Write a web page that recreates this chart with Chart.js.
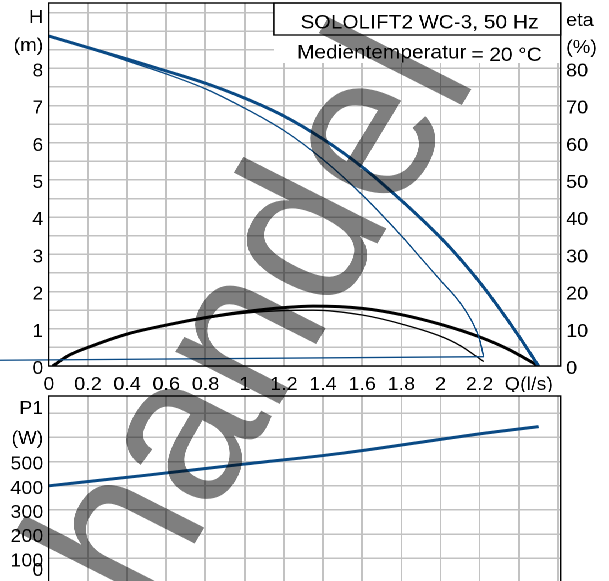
<!DOCTYPE html>
<html><head><meta charset="utf-8">
<script src="https://cdn.jsdelivr.net/npm/chart.js@4.4.1/dist/chart.umd.min.js"></script>
<style>
html,body{margin:0;padding:0;background:#fff;overflow:hidden;width:609px;height:581px}
#wrap{position:absolute;left:0;top:0;width:554px;height:600px;transform:scaleX(1.09928);transform-origin:0 0}
#c1{position:absolute;left:0;top:0}
#c2{position:absolute;left:0;top:392px}
#wm{position:absolute;left:0;top:0;pointer-events:none}
</style></head><body>
<div id="wrap"><canvas id="c1" width="554" height="392"></canvas><canvas id="c2" width="554" height="200"></canvas><canvas id="wm"></canvas></div>
<script>
// ---------- data ----------
const xTickValues = [0,0.2,0.4,0.6,0.8,1,1.2,1.4,1.6,1.8,2,2.2];
const xTickLabels = ['0','0.2','0.4','0.6','0.8','1','1.2','1.4','1.6','1.8','2','2.2'];
const xUnitLabel = 'Q(l/s)';
const xGridValues = [0,0.2,0.4,0.6,0.8,1,1.2,1.4,1.6,1.8,2,2.2,2.4,2.6];

const headGridValues = [0,0.5,1,1.5,2,2.5,3,3.5,4,4.5,5,5.5,6,6.5,7,7.5,8,8.5,9,9.5];
const headTickValues = [0,1,2,3,4,5,6,7,8];
const headTickLabels = ['0','1','2','3','4','5','6','7','8'];
const headUnitLabels = ['H','(m)'];

const etaTickValues = [0,10,20,30,40,50,60,70,80];
const etaTickLabels = ['0','10','20','30','40','50','60','70','80'];
const etaUnitLabels = ['eta','(%)'];

const powerGridValues = [0,100,200,300,400,500,600,700];
const powerTickValues = [100,200,300,400,500];
const powerTickLabels = ['100','200','300','400','500'];
const powerUnitLabels = ['P1','(W)','0'];

const titleLines = ['SOLOLIFT2 WC-3, 50 Hz','Medientemperatur','= 20 °C'];
const watermarkText = 'handel';

// head curve, thick (m)
const qHeadMax = [0,0.2,0.4,0.6,0.8,1.0,1.2,1.4,1.6,1.8,2.0,2.1,2.2,2.3,2.4,2.5];
const headMax  = [8.87,8.56,8.25,7.93,7.6,7.2,6.72,6.1,5.35,4.45,3.45,2.88,2.25,1.55,0.8,0];
// head curve, thin (m)
const qHeadMin = [0,0.2,0.4,0.6,0.8,1.0,1.2,1.4,1.6,1.8,1.9,2.0,2.1,2.17,2.2,2.22];
const headMin  = [8.87,8.55,8.2,7.85,7.45,6.93,6.33,5.55,4.6,3.5,2.9,2.3,1.7,1.1,0.7,0.25];
// thin closing line (m)
const qBaseLine = [-0.25,2.22];
const baseLine  = [0.155,0.25];
// efficiency curves (%)
const qEtaMax = [0.02,0.1,0.2,0.4,0.6,0.8,1.0,1.2,1.35,1.6,1.8,2.0,2.2,2.35,2.5];
const etaMax  = [0,2.8,5.0,8.6,11.0,13.0,14.6,15.7,16.1,15.5,13.8,11.2,7.8,4.4,0];
const qEtaMin = [0.02,0.1,0.2,0.4,0.6,0.8,1.0,1.2,1.35,1.6,1.8,2.0,2.1,2.22];
const etaMin  = [0,2.8,5.0,8.5,10.9,12.8,14.2,14.9,15.0,13.7,11.3,8.0,5.5,1.2];
// power input P1 (W)
const qPower = [0,0.5,1.0,1.5,2.0,2.2,2.5];
const power  = [400,444,490,535,592,615,645];

// ---------- layout / style ----------
const BLUE = '#0a4a85';
const GRID = '#c2c2c2';
const GRID_W = 1.5;
const FONT = {family:'"Liberation Sans", Arial, sans-serif', size:18};
const AREA_L = 44.4, AREA_R = 510, W = 554;
const X_MAX = 2.613;
const LABEL_DY = 3;
const H_POS = 9.435, M_POS = 8.68;
const ETA_POS = 93.5, PCT_POS = 86.3;
const P_POS = 730, WUNIT_POS = 606, ZERO_POS = 60;
const X_UNIT_POS = 2.45;

const xy = (xs, ys) => xs.map((x,i)=>({x, y: ys[i]}));
const near = (a,b) => Math.abs(a-b) < 1e-6;
const idx = (arr, v) => arr.findIndex(a => near(a,v));
const noPad = s => { s.paddingTop = 0; s.paddingBottom = 0; s.paddingLeft = 0; s.paddingRight = 0; };

const framePlugin = {
  id:'frame',
  afterDraw(chart){
    const {ctx, chartArea:a} = chart;
    ctx.save();
    ctx.strokeStyle = '#000'; ctx.lineWidth = 1.4;
    ctx.strokeRect(a.left, a.top, a.right-a.left, a.bottom-a.top);
    ctx.restore();
  }
};

const boxPlugin = {
  id:'box',
  beforeDatasetsDraw(chart){
    const {ctx} = chart;
    const x1 = 249.2, x2 = AREA_R;
    ctx.save();
    ctx.fillStyle = '#fff';
    ctx.fillRect(x1, 3, x2-x1, 32);
    ctx.fillRect(x1, 35, x2-x1, 28);
    ctx.strokeStyle = '#000'; ctx.lineWidth = 1.3;
    ctx.strokeRect(x1, 3, x2-x1, 32);
    ctx.fillStyle = '#000';
    ctx.font = '19px "Liberation Sans", Arial, sans-serif';
    ctx.textBaseline = 'alphabetic';
    ctx.textAlign = 'center';
    ctx.fillText(titleLines[0], 381.6, 28.3);
    ctx.textAlign = 'left';
    ctx.fillText(titleLines[1], 270.2, 58.3);
    ctx.textAlign = 'right';
    ctx.fillText(titleLines[2], 492.8, 61);
    ctx.restore();
  }
};

const gridColor = vals => c => (c.tick && idx(vals, c.tick.value) >= 0) ? GRID : 'rgba(0,0,0,0)';

new Chart(document.getElementById('c1'), {
  type:'line',
  data:{ datasets:[
    {data: xy(qHeadMax, headMax), yAxisID:'y', borderColor:BLUE, borderWidth:3},
    {data: xy(qHeadMin, headMin), yAxisID:'y', borderColor:BLUE, borderWidth:1.3},
    {data: xy(qBaseLine, baseLine), yAxisID:'y', borderColor:BLUE, borderWidth:1.3, clip:false, cubicInterpolationMode:'default', tension:0},
    {data: xy(qEtaMax, etaMax), yAxisID:'y2', borderColor:'#000', borderWidth:3},
    {data: xy(qEtaMin, etaMin), yAxisID:'y2', borderColor:'#000', borderWidth:1.3}
  ]},
  options:{
    responsive:false, animation:false, devicePixelRatio:2,
    layout:{padding:{top:3, left:0, right:0, bottom:0}},
    elements:{ point:{radius:0}, line:{cubicInterpolationMode:'monotone', fill:false, borderCapStyle:'butt'} },
    plugins:{ legend:{display:false}, tooltip:{enabled:false} },
    scales:{
      x: { type:'linear', min:0, max:X_MAX,
        afterBuildTicks: s => { s.ticks = xGridValues.concat([X_UNIT_POS]).map(v=>({value:v})); },
        afterFit: s => { s.height = 26; noPad(s); },
        border:{display:false},
        grid:{ color: gridColor(xGridValues), lineWidth:GRID_W, drawTicks:false },
        ticks:{ autoSkip:false, maxRotation:0, padding:8, color:'#000', font:FONT,
          callback: v => { const i = idx(xTickValues, v); if (i >= 0) return xTickLabels[i]; if (near(v, X_UNIT_POS)) return xUnitLabel; return ''; } }
      },
      y: { type:'linear', position:'left', min:0, max:9.758,
        afterBuildTicks: s => { s.ticks = headGridValues.concat([H_POS, M_POS]).map(v=>({value:v})); },
        afterFit: s => { s.width = AREA_L; noPad(s); },
        border:{display:false},
        grid:{ color: gridColor(headGridValues), lineWidth:GRID_W, drawTicks:false },
        ticks:{ autoSkip:false, padding:5, labelOffset:LABEL_DY, color:'#000', font:FONT,
          callback: v => { const i = idx(headTickValues, v); if (i >= 0) return headTickLabels[i];
            if (near(v,H_POS)) return headUnitLabels[0]; if (near(v,M_POS)) return headUnitLabels[1]; return ''; } }
      },
      y2: { type:'linear', position:'right', min:0, max:97.58,
        afterBuildTicks: s => { s.ticks = etaTickValues.concat([ETA_POS, PCT_POS]).map(v=>({value:v})); },
        afterFit: s => { s.width = W - AREA_R; noPad(s); },
        border:{display:false},
        grid:{ display:false, drawTicks:false },
        ticks:{ autoSkip:false, padding:5, labelOffset:LABEL_DY, color:'#000', font:FONT,
          callback: v => { const i = idx(etaTickValues, v); if (i >= 0) return etaTickLabels[i];
            if (near(v,ETA_POS)) return etaUnitLabels[0]; if (near(v,PCT_POS)) return etaUnitLabels[1]; return ''; } }
      }
    }
  },
  plugins:[boxPlugin, framePlugin]
});

new Chart(document.getElementById('c2'), {
  type:'line',
  data:{ datasets:[
    {data: xy(qPower, power), borderColor:BLUE, borderWidth:3}
  ]},
  options:{
    responsive:false, animation:false, devicePixelRatio:2,
    layout:{padding:{top:4, left:0, right:W-AREA_R, bottom:9.5}},
    elements:{ point:{radius:0}, line:{cubicInterpolationMode:'monotone', fill:false, borderCapStyle:'butt'} },
    plugins:{ legend:{display:false}, tooltip:{enabled:false} },
    scales:{
      x: { type:'linear', min:0, max:X_MAX,
        afterBuildTicks: s => { s.ticks = xGridValues.map(v=>({value:v})); },
        afterFit: s => { s.height = 0; noPad(s); },
        border:{display:false},
        grid:{ color:GRID, lineWidth:GRID_W, drawTicks:false },
        ticks:{ display:false }
      },
      y: { type:'linear', position:'left', min:0, max:771.6,
        afterBuildTicks: s => { s.ticks = powerGridValues.concat([P_POS, WUNIT_POS, ZERO_POS]).map(v=>({value:v})); },
        afterFit: s => { s.width = AREA_L; noPad(s); },
        border:{display:false},
        grid:{ color: gridColor(powerGridValues), lineWidth:GRID_W, drawTicks:false },
        ticks:{ autoSkip:false, padding:5, labelOffset:LABEL_DY, color:'#000', font:FONT,
          callback: v => { const i = idx(powerTickValues, v); if (i >= 0) return powerTickLabels[i];
            if (near(v,P_POS)) return powerUnitLabels[0]; if (near(v,WUNIT_POS)) return powerUnitLabels[1];
            if (near(v,ZERO_POS)) return powerUnitLabels[2]; return ''; } }
      }
    }
  },
  plugins:[framePlugin]
});

// watermark overlay
const wm = document.getElementById('wm');
wm.width = 1108; wm.height = 1200; wm.style.width = '554px'; wm.style.height = '600px';
const wctx = wm.getContext('2d');
wctx.scale(2,2);
wctx.translate(137, 615.7);
wctx.rotate(-61*Math.PI/180);
wctx.font = '205px "Liberation Sans", Arial, sans-serif';
wctx.fillStyle = 'rgba(0,0,0,0.5)';
wctx.textBaseline = 'alphabetic';
wctx.fillText(watermarkText, 0, 0);
</script>
</body></html>
